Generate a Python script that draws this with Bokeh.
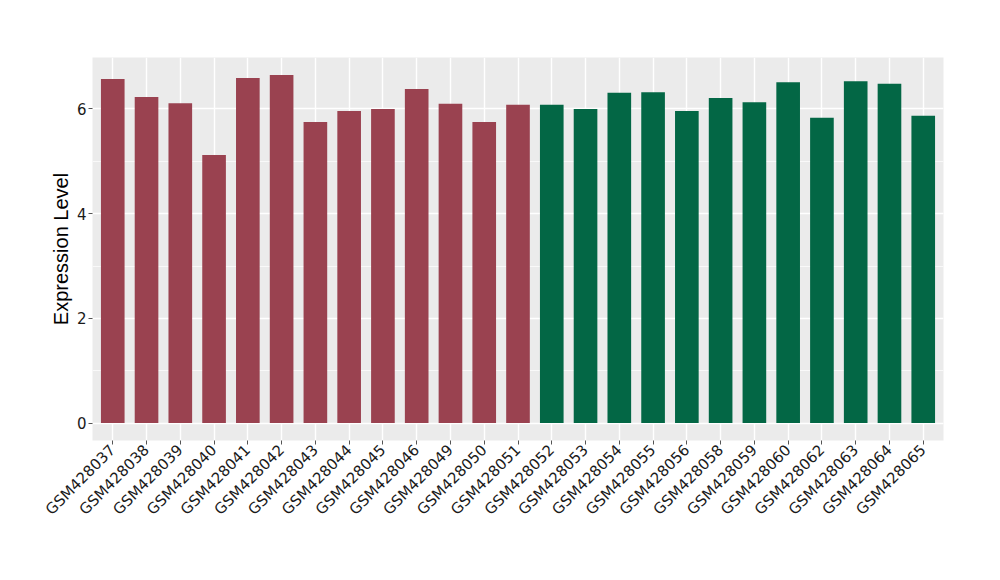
import math
from bokeh.plotting import figure
from bokeh.models import FactorRange, Range1d, SingleIntervalTicker, ColumnDataSource
from bokeh.embed import file_html
from bokeh.resources import INLINE

samples = ["GSM428037", "GSM428038", "GSM428039", "GSM428040", "GSM428041",
           "GSM428042", "GSM428043", "GSM428044", "GSM428045", "GSM428046",
           "GSM428049", "GSM428050", "GSM428051", "GSM428052", "GSM428053",
           "GSM428054", "GSM428055", "GSM428056", "GSM428058", "GSM428059",
           "GSM428060", "GSM428062", "GSM428063", "GSM428064", "GSM428065"]
values = [6.57, 6.23, 6.11, 5.12, 6.59,
          6.65, 5.75, 5.96, 6.00, 6.38,
          6.10, 5.75, 6.08, 6.08, 6.00,
          6.31, 6.32, 5.96, 6.21, 6.13,
          6.51, 5.83, 6.53, 6.48, 5.87]
groups = ["A"] * 13 + ["B"] * 12
group_colors = {"A": "#9A4250", "B": "#036745"}

colors = [group_colors[g] for g in groups]
src = ColumnDataSource(dict(x=samples, top=values, color=colors))

vmax = max(values)
p = figure(x_range=FactorRange(*samples, range_padding=0.1, range_padding_units="absolute"),
           y_range=Range1d(-0.05 * vmax, 1.05 * vmax),
           width=992, height=572, output_backend="svg", toolbar_location=None,
           min_border_left=92, min_border_right=49, min_border_top=57, min_border_bottom=132)

p.vbar(x="x", top="top", width=0.7, bottom=0, fill_color="color", line_color=None, source=src)

p.background_fill_color = "#EBEBEB"
p.border_fill_color = "white"
p.outline_line_color = None

p.xgrid.grid_line_color = "white"
p.xgrid.grid_line_width = 1.4
p.ygrid.grid_line_color = "white"
p.ygrid.grid_line_width = 1.4
p.ygrid.minor_grid_line_color = "white"
p.ygrid.minor_grid_line_width = 0.7

p.yaxis.ticker = SingleIntervalTicker(interval=2, num_minor_ticks=2)

for ax in (p.xaxis, p.yaxis):
    ax.axis_line_color = None
    ax.major_tick_line_color = "#555555"
    ax.major_tick_in = 0
    ax.major_tick_out = 4
    ax.minor_tick_line_color = None
    ax.major_label_text_font = "DejaVu Sans"
    ax.major_label_text_font_size = "15px"
    ax.major_label_text_color = "#1A1A1A"
    ax.major_label_standoff = 2

p.xaxis.major_label_orientation = math.pi / 4
p.xaxis.major_label_standoff = 3
p.yaxis.axis_label = "Expression Level"
p.yaxis.axis_label_text_font = "Liberation Sans"
p.yaxis.axis_label_text_font_size = "20px"
p.yaxis.axis_label_text_font_style = "normal"
p.yaxis.axis_label_text_color = "black"
p.yaxis.axis_label_standoff = 2

open("out.html", "w").write(file_html(p, INLINE))
